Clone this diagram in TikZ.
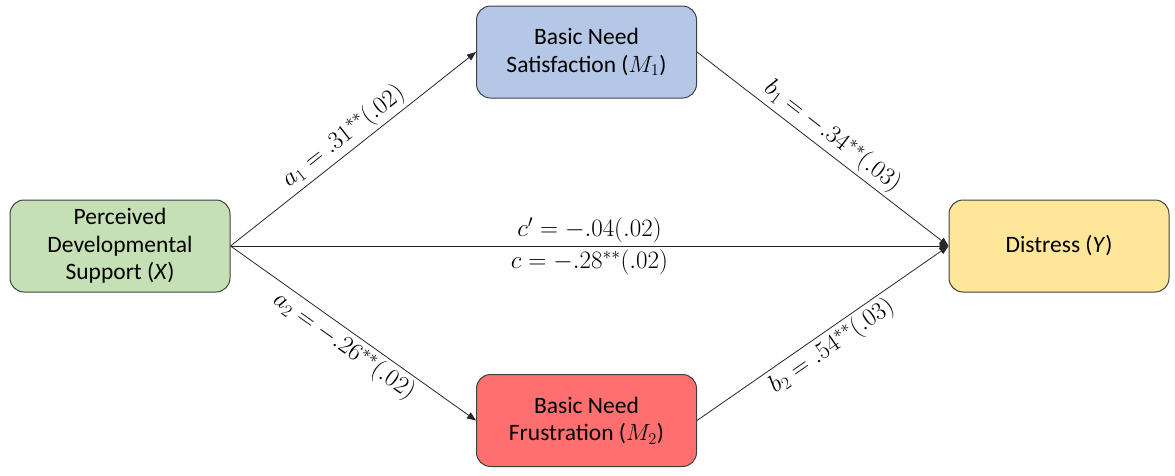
\documentclass[tikz,border=0pt]{standalone}
\usepackage{fix-cm}
\usepackage{fontspec}
\setmainfont{Carlito}
\usetikzlibrary{arrows.meta}
\definecolor{boxgreen}{HTML}{C5E0B4}
\definecolor{boxblue}{HTML}{B4C7E7}
\definecolor{boxred}{HTML}{FF6F6F}
\definecolor{boxyellow}{HTML}{FFE699}
\definecolor{boxline}{HTML}{404040}
\begin{document}
\begin{tikzpicture}[x=1pt,y=-1pt,
  box/.style={draw=boxline, line width=1pt, rounded corners=14pt,
    minimum width=220pt, minimum height=92pt, align=center,
    font=\fontsize{23.5}{27.5}\selectfont, inner sep=0pt},
  arr/.style={draw=black!85, line width=0.8pt, -{Triangle[length=9pt,width=7pt]}},
  lab/.style={font=\fontsize{25}{29}\selectfont, inner sep=3pt}]
\useasboundingbox (0,0) rectangle (1175,475);
\node[box, fill=boxgreen] (X) at (120,246) {Perceived\\Developmental\\Support (\textit{X})};
\node[box, fill=boxblue] (M1) at (586.5,52) {Basic Need\\Satisfaction ($M_1$)};
\node[box, fill=boxred] (M2) at (586.5,420.5) {Basic Need\\Frustration ($M_2$)};
\node[box, fill=boxyellow] (Y) at (1059,246) {Distress (\textit{Y})};
\draw[arr] (X.east) -- node[lab, sloped, above] {$a_1 = .31^{**}(.02)$} (M1.west);
\draw[arr] (X.east) -- node[lab, sloped, below] {$a_2 = -.26^{**}(.02)$} (M2.west);
\draw[arr] (M1.east) -- node[lab, sloped, above] {$b_1 = -.34^{**}(.03)$} (Y.west);
\draw[arr] (M2.east) -- node[lab, sloped, below] {$b_2 = .54^{**}(.03)$} (Y.west);
\draw[arr] (X.east) -- node[lab, above] {$c' = -.04(.02)$} node[lab, below] {$c = -.28^{**}(.02)$} (Y.west);
\end{tikzpicture}
\end{document}
